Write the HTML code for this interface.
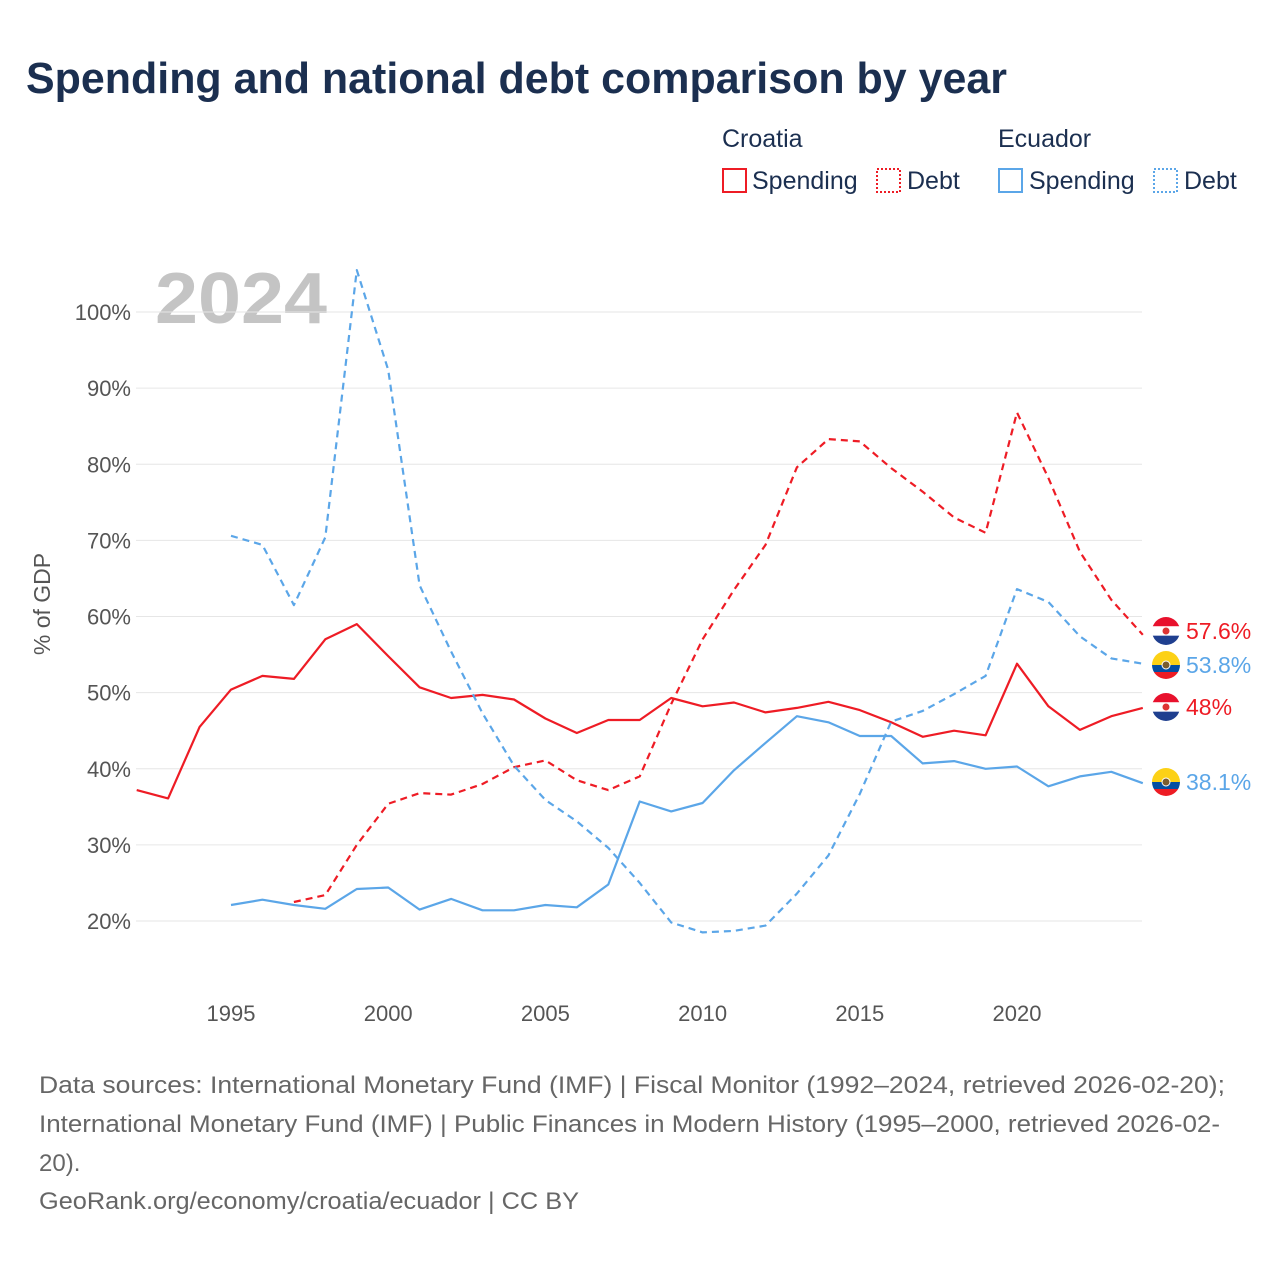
<!DOCTYPE html>
<html><head><meta charset="utf-8">
<style>
body{margin:0;background:#fff;font-family:"Liberation Sans",sans-serif;}
svg text{font-family:"Liberation Sans",sans-serif;}
</style></head>
<body>
<svg id="chart" width="1280" height="1280" viewBox="0 0 1280 1280">
<text x="26" y="93" font-size="44" font-weight="bold" fill="#1b2f50" textLength="981" lengthAdjust="spacingAndGlyphs">Spending and national debt comparison by year</text>
<g font-size="25" fill="#1b2f50">
<text x="722" y="147" fill="#1b2f50">Croatia</text>
<text x="998" y="147" fill="#1b2f50">Ecuador</text>
<g><rect x="723" y="169" width="23" height="23" fill="none" stroke="#ee1c25" stroke-width="2"/><text x="752" y="189" fill="#1b2f50">Spending</text></g>
<g><rect x="877" y="169" width="23" height="23" fill="none" stroke="#ee1c25" stroke-width="2" stroke-dasharray="2,2"/><text x="907" y="189" fill="#1b2f50">Debt</text></g>
<g><rect x="999" y="169" width="23" height="23" fill="none" stroke="#5ba6e8" stroke-width="2"/><text x="1029" y="189" fill="#1b2f50">Spending</text></g>
<g><rect x="1154" y="169" width="23" height="23" fill="none" stroke="#5ba6e8" stroke-width="2" stroke-dasharray="2,2"/><text x="1184" y="189" fill="#1b2f50">Debt</text></g>
</g>
<text x="155" y="323" font-size="72" font-weight="bold" fill="#c4c4c4" textLength="172" lengthAdjust="spacingAndGlyphs">2024</text>
<g id="grid"></g>
<g id="series"></g>
<g id="endlabels"></g>
<text transform="translate(50,604) rotate(-90)" text-anchor="middle" font-size="23" fill="#555">% of GDP</text>
<g font-size="24" fill="#666">
<text x="39" y="1093" textLength="1186" lengthAdjust="spacingAndGlyphs">Data sources: International Monetary Fund (IMF) | Fiscal Monitor (1992–2024, retrieved 2026-02-20);</text>
<text x="39" y="1132" textLength="1181" lengthAdjust="spacingAndGlyphs">International Monetary Fund (IMF) | Public Finances in Modern History (1995–2000, retrieved 2026-02-</text>
<text x="39" y="1171">20).</text>
<text x="39" y="1209" textLength="540" lengthAdjust="spacingAndGlyphs">GeoRank.org/economy/croatia/ecuador | CC BY</text>
</g>
</svg>
<script>
const yTicks=[20,30,40,50,60,70,80,90,100];
const xTicks=[1995,2000,2005,2010,2015,2020];
const hrvSpendYears=[1992,2024];
const hrvSpending=[37.2,36.1,45.5,50.4,52.2,51.8,57.0,59.0,54.8,50.7,49.3,49.7,49.1,46.6,44.7,46.4,46.4,49.3,48.2,48.7,47.4,48.0,48.8,47.7,46.1,44.2,45.0,44.4,53.8,48.2,45.1,46.9,48.0];
const hrvDebtStart=1997;
const hrvDebt=[22.5,23.4,30.0,35.4,36.8,36.6,38.0,40.2,41.1,38.5,37.2,39.0,48.5,57.0,63.5,69.4,79.6,83.3,83.0,79.5,76.4,73.0,71.0,86.8,78.2,68.5,62.2,57.6];
const ecuSpendStart=1995;
const ecuSpending=[22.1,22.8,22.1,21.6,24.2,24.4,21.5,22.9,21.4,21.4,22.1,21.8,24.8,35.7,34.4,35.5,39.8,43.4,46.9,46.1,44.3,44.3,40.7,41.0,40.0,40.3,37.7,39.0,39.6,38.1];
const ecuDebtStart=1995;
const ecuDebt=[70.6,69.4,61.5,70.4,105.5,92.4,64.1,55.4,47.3,40.4,35.9,33.1,29.6,25.0,19.8,18.5,18.7,19.4,23.6,28.6,36.7,46.2,47.6,49.8,52.2,63.6,61.9,57.4,54.5,53.8];

const NS="http://www.w3.org/2000/svg";
const xs=y=>231+(y-1995)*31.44;
const ys=v=>921-(v-20)*7.6125;
const RED="#ee1c25",BLUE="#5ba6e8";
function mk(tag,attrs,parent){const e=document.createElementNS(NS,tag);for(const k in attrs)e.setAttribute(k,attrs[k]);parent.appendChild(e);return e;}
const grid=document.getElementById('grid');
yTicks.forEach(t=>{
  const l=mk('line',{x1:136,x2:1142,y1:ys(t),y2:ys(t),stroke:'#e6e6e6','stroke-width':1},grid);
  
  
  const tx=mk('text',{x:131,y:ys(t)+8,'text-anchor':'end','font-size':22,fill:'#555'},grid);
  tx.textContent=t+'%';
  
  
});
xTicks.forEach(t=>{
  const tx=mk('text',{x:xs(t),y:1021,'text-anchor':'middle','font-size':22,fill:'#555'},grid);
  tx.textContent=t;
  
  
});
const ser=document.getElementById('series');
function line(vals,start,color,dash,name){
  const d=vals.map((v,i)=>(i?'L':'M')+xs(start+i).toFixed(1)+','+ys(v).toFixed(1)).join('');
  const p=mk('path',{d:d,fill:'none',stroke:color,'stroke-width':2.2,'stroke-dasharray':dash||'none','stroke-linejoin':'round'},ser);
  
  
}
line(hrvSpending,hrvSpendYears[0],RED,null,'croatia-spending-line');
line(hrvDebt,hrvDebtStart,RED,'7,5','croatia-debt-line');
line(ecuSpending,ecuSpendStart,BLUE,null,'ecuador-spending-line');
line(ecuDebt,ecuDebtStart,BLUE,'7,5','ecuador-debt-line');
const el=document.getElementById('endlabels');
function flag(cy,cols,name){
  const g=mk('g',{},el);
  
  
  const cx=1166,r=14;
  const cp=mk('clipPath',{id:'c'+name},g);mk('circle',{cx:cx,cy:cy,r:r},cp);
  const h=[2*r/3,2*r/3,2*r/3];
  if(cols[0]==='#fcd116'){h[0]=r;h[1]=r/2;h[2]=r/2;}
  let y0=cy-r;
  cols.forEach((c,i)=>{mk('rect',{x:cx-r,y:y0,width:2*r,height:h[i],fill:c,'clip-path':'url(#c'+name+')'},g);y0+=h[i];});
  mk('circle',{cx:cx,cy:cy,r:4,fill:cols[0]==='#fcd116'?'#7a5c2e':'#d33','stroke':'#fff','stroke-width':1},g);
}
function endLabel(v,txt,color,flagCols,name,ly){
  flag(ly,flagCols,name+'-flag');
  const t=mk('text',{x:1186,y:ly+8,'font-size':23,fill:color},el);
  t.textContent=txt;
  
  
}
const HRV=['#e8112d','#ffffff','#1f3f8f'],ECU=['#fcd116','#034ea2','#ed1c24'];
endLabel(hrvDebt[hrvDebt.length-1],hrvDebt[hrvDebt.length-1]+'%',RED,HRV,'croatia-debt-end',631);
endLabel(ecuDebt[ecuDebt.length-1],ecuDebt[ecuDebt.length-1]+'%',BLUE,ECU,'ecuador-debt-end',665);
endLabel(hrvSpending[hrvSpending.length-1],hrvSpending[hrvSpending.length-1]+'%',RED,HRV,'croatia-spending-end',707);
endLabel(ecuSpending[ecuSpending.length-1],ecuSpending[ecuSpending.length-1]+'%',BLUE,ECU,'ecuador-spending-end',782);
</script>
</body></html>
